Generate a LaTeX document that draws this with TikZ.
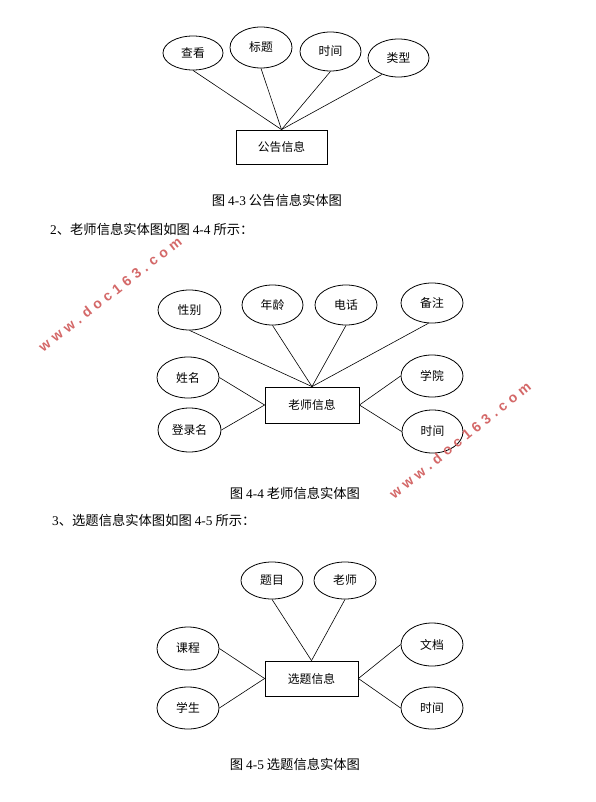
\documentclass[tikz,border=0pt]{standalone}
\usepackage{fontspec}
\setmainfont{Liberation Serif}
\newfontfamily\cjk{Noto Sans CJK SC}
\newfontfamily\wmfont[LetterSpace=33]{Liberation Sans Bold}
\usetikzlibrary{shapes.geometric}
\definecolor{wm}{RGB}{212,104,104}
\tikzset{
  attr/.style 2 args={ellipse, draw, line width=0.8pt, inner sep=0pt,
    minimum width=#1pt, minimum height=#2pt,
    font=\cjk\fontsize{11.8}{12}\selectfont},
  ent/.style 2 args={rectangle, draw, line width=0.8pt, inner sep=0pt,
    minimum width=#1pt, minimum height=#2pt,
    font=\cjk\fontsize{11.8}{12}\selectfont},
  link/.style={line width=0.6pt},
  figcap/.style={inner sep=0pt, font=\cjk\fontsize{13.3}{14}\selectfont},
  bodytext/.style={inner sep=0pt, anchor=west, font=\cjk\fontsize{13.3}{14}\selectfont},
  wmark/.style={inner sep=0pt, text=wm, font=\wmfont\fontsize{14}{15}\selectfont}
}
\begin{document}
\begin{tikzpicture}[x=1pt,y=-1pt]
\useasboundingbox[fill=white] (0,0) rectangle (596,802);

% ---- Figure 4-3
\node[attr={60}{34}] (v1) at (193,53) {查看};
\node[attr={62}{41}] (v2) at (261,47.5) {标题};
\node[attr={61}{39}] (v3) at (330.5,51.5) {时间};
\node[attr={61}{38}] (v4) at (398.5,58) {类型};
\node[ent={91}{34}] (e1) at (281.5,147) {公告信息};
\draw[link] (v1.south) -- (e1.north);
\draw[link] (v2.south) -- (e1.north);
\draw[link] (v3.south) -- (e1.north);
\draw[link] (v4.225) -- (e1.north);
\node[figcap] (c1) at (277,200) {图 {\rmfamily 4-3} 公告信息实体图};

\node[bodytext] (t1) at (50,229) {{\rmfamily 2}、老师信息实体图如图 {\rmfamily 4-4} 所示：};

% ---- Figure 4-4
\node[attr={63}{40}] (a1) at (189.5,310) {性别};
\node[attr={61}{40}] (a2) at (272.5,305) {年龄};
\node[attr={62}{40}] (a3) at (346,305) {电话};
\node[attr={62}{40}] (a4) at (432,303) {备注};
\node[attr={62}{41}] (a5) at (188,377.5) {姓名};
\node[attr={63}{44}] (a6) at (189.5,430) {登录名};
\node[attr={62}{42}] (a7) at (432,376) {学院};
\node[attr={61}{43}] (a8) at (432.5,431.5) {时间};
\node[ent={94}{36}] (e2) at (312,405) {老师信息};
\draw[link] (a1.south) -- (e2.north);
\draw[link] (a2.south) -- (e2.north);
\draw[link] (a3.south) -- (e2.north);
\draw[link] (a4.260) -- (e2.north);
\draw[link] (a5.east) -- (e2.west);
\draw[link] (a6.east) -- (e2.west);
\draw[link] (a7.west) -- (e2.east);
\draw[link] (a8.west) -- (e2.east);
\node[figcap] (c2) at (295,493) {图 {\rmfamily 4-4} 老师信息实体图};

\node[bodytext] (t2) at (52,520) {{\rmfamily 3}、选题信息实体图如图 {\rmfamily 4-5} 所示：};

% ---- Figure 4-5
\node[attr={62}{37}] (b1) at (272,580.5) {题目};
\node[attr={62}{37}] (b2) at (345,580.5) {老师};
\node[attr={62}{43}] (b3) at (188,648.5) {课程};
\node[attr={62}{42}] (b4) at (188,708) {学生};
\node[attr={62}{43}] (b5) at (432,644.5) {文档};
\node[attr={62}{42}] (b6) at (432,708) {时间};
\node[ent={93}{35}] (e3) at (311.5,678.5) {选题信息};
\draw[link] (b1.south) -- (e3.north);
\draw[link] (b2.south) -- (e3.north);
\draw[link] (b3.east) -- (e3.west);
\draw[link] (b4.east) -- (e3.west);
\draw[link] (b5.west) -- (e3.east);
\draw[link] (b6.west) -- (e3.east);
\node[figcap] (c3) at (295,764) {图 {\rmfamily 4-5} 选题信息实体图};

% ---- watermarks
\node[wmark, rotate=38] (w1) at (110,294) {www.doc163.com};
\node[wmark, rotate=39] (w2) at (460,440) {www.doc163.com};
\end{tikzpicture}
\end{document}
